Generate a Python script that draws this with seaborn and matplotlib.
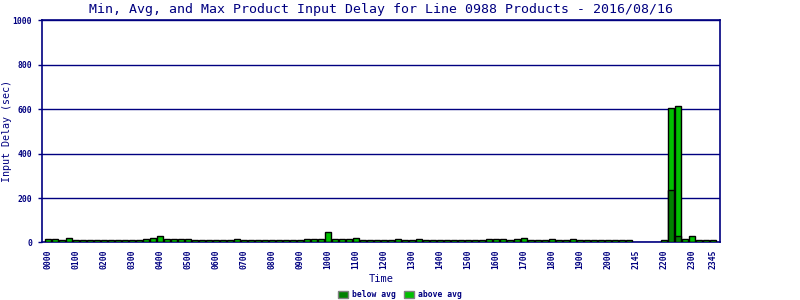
import matplotlib
matplotlib.use("Agg")
import matplotlib.pyplot as plt
import pandas as pd
import seaborn as sns
from matplotlib.patches import Patch

# 15-minute slots (categories)
slots = [f"{h:02d}{m:02d}" for h in range(24) for m in (0, 15, 30, 45)]

# total (max) delay per slot, sec; None = no data
totals = [14, 14, 10, 18, 10, 10, 10, 10, 10, 10, 10, 10, 10, 10, 14, 22,
          27, 17, 14, 17, 17, 10, 10, 10, 10, 10, 10, 14, 10, 10, 9, 10,
          10, 10, 10, 10, 10, 14, 14, 14, 45, 14, 14, 14, 19, 10, 10, 10,
          10, 10, 14, 10, 10, 14, 10, 10, 10, 10, 10, 10, 10, 10, 10, 17,
          17, 14, 10, 17, 22, 10, 10, 10, 14, 10, 10, 17, 10, 10, 10, 10,
          10, 10, 10, 10, None, None, None, None, 10, 604, 615, 17, 27, 10, 10, 10]

# below-average portion per slot
below = [3] * 89 + [237, 30] + [3] * 5
below = [b if t is not None else None for b, t in zip(below, totals)]

tick_labels = ["0000", "0100", "0200", "0300", "0400", "0500", "0600", "0700",
               "0800", "0900", "1000", "1100", "1200", "1300", "1400", "1500",
               "1600", "1700", "1800", "1900", "2000", "2145", "2200", "2300", "2345"]
tick_slots = [slots[i] for i in list(range(0, 96, 4)) + [95]]

NAVY = "#000080"
DARK = "#008000"
BRIGHT = "#00C000"

df = pd.DataFrame({"slot": slots, "total": totals, "below": below}).dropna()

sns.set_style("white")
plt.rcParams["font.family"] = ["DejaVu Sans Mono", "DejaVu Sans"]

fig = plt.figure(figsize=(8, 3), dpi=100)
ax = fig.add_axes([0.052, 0.192, 0.848, 0.740])

sns.barplot(data=df, x="slot", y="total", order=slots, color=BRIGHT, saturation=1,
            edgecolor="black", linewidth=1.0, width=0.8, ax=ax, errorbar=None)
sns.barplot(data=df, x="slot", y="below", order=slots, color=DARK, saturation=1,
            edgecolor="black", linewidth=1.0, width=0.8, ax=ax, errorbar=None)
for p in ax.patches:
    p.set_zorder(3)

ax.set_ylim(0, 1000)
ax.set_xlim(-0.9, 96.0)
ax.set_yticks([0, 200, 400, 600, 800, 1000])
ax.set_yticklabels(["0", "200", "400", "600", "800", "1000"])
ax.yaxis.grid(True, color=NAVY, linewidth=1.0)
ax.set_axisbelow(True)

pos = [slots.index(s) for s in tick_slots]
ax.set_xticks(pos)
ax.set_xticklabels(tick_labels, rotation=90)

ax.tick_params(axis="y", colors=NAVY, labelsize=5.8, length=3, width=1, direction="out", left=True, pad=4)
ax.tick_params(axis="x", colors=NAVY, labelsize=5.8, length=0, pad=5)
for lab in ax.get_xticklabels() + ax.get_yticklabels():
    lab.set_fontweight("bold")

for sp in ax.spines.values():
    sp.set_color(NAVY)
    sp.set_linewidth(1.2)
    sp.set_zorder(2)

ax.set_xlabel("Time", color=NAVY, fontsize=7.5, labelpad=4)
ax.set_ylabel("Input Delay (sec)", color=NAVY, fontsize=7.2)
ax.yaxis.set_label_coords(-0.043, 0.5)
ax.set_title("Min, Avg, and Max Product Input Delay for Line 0988 Products - 2016/08/16",
             color=NAVY, fontsize=9.5, pad=5)

handles = [Patch(facecolor=DARK, edgecolor="#808080", linewidth=1, label="below avg"),
           Patch(facecolor=BRIGHT, edgecolor="#808080", linewidth=1, label="above avg")]
leg = fig.legend(handles=handles, loc="center", bbox_to_anchor=(0.5, 0.018), ncol=2,
                 frameon=False, prop={"size": 5.8, "weight": "bold"}, labelcolor=NAVY,
                 handlelength=1.2, handleheight=1.0, handletextpad=0.5, columnspacing=1.0)

fig.savefig("out.png", dpi=100)
